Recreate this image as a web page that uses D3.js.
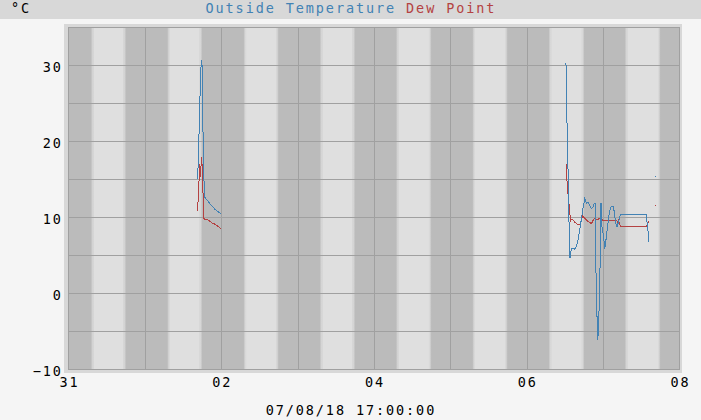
<!DOCTYPE html>
<html>
<head>
<meta charset="utf-8">
<script src="https://cdn.jsdelivr.net/npm/d3@7/dist/d3.min.js"></script>
<style>
  html, body { margin: 0; padding: 0; background: #f5f5f5; }
  svg { display: block; }
  text { font-family: "DejaVu Sans Mono", "Liberation Mono", monospace; }
</style>
</head>
<body>
<svg id="chart" width="701" height="420"></svg>
<script>
// ---------------- DATA ----------------
const xStart = "2018-07-31 00:00";
const xEnd = "2018-08-08 00:00";
const yMin = -10;
const yMax = 35;
const yTickValues = [-10, 0, 10, 20, 30];
const yGridValues = [-5, 0, 5, 10, 15, 20, 25, 30];
const xTickDates = ["2018-07-31 00:00", "2018-08-02 00:00", "2018-08-04 00:00", "2018-08-06 00:00", "2018-08-08 00:00"];
const dayStarts = ["2018-07-31", "2018-08-01", "2018-08-02", "2018-08-03", "2018-08-04", "2018-08-05", "2018-08-06", "2018-08-07"];
const sunriseHours = [7.45, 7.42, 7.38, 7.35, 7.32, 7.30, 7.25, 7.20];
const sunsetHours  = [17.70, 17.66, 17.67, 17.68, 17.69, 17.62, 17.75, 17.66];
const titleUnit = "°C";
const titleSeries = ["Outside Temperature", "Dew Point"];
const bottomLabel = "07/08/18 17:00:00";

const tempTimes = [
  "2018-08-01 16:30","2018-08-01 16:45","2018-08-01 17:00","2018-08-01 17:15","2018-08-01 17:30",
  "2018-08-01 17:45","2018-08-01 18:00","2018-08-01 18:15","2018-08-01 18:30","2018-08-01 18:45",
  "2018-08-01 19:30","2018-08-01 20:30","2018-08-01 21:25","2018-08-01 22:05","2018-08-01 23:10",
  "2018-08-01 23:55",
  "2018-08-04 00:00",
  "2018-08-06 12:20","2018-08-06 12:25","2018-08-06 12:45","2018-08-06 13:05","2018-08-06 13:20",
  "2018-08-06 13:35","2018-08-06 14:00","2018-08-06 14:30","2018-08-06 15:00","2018-08-06 15:35",
  "2018-08-06 16:05","2018-08-06 16:40","2018-08-06 17:10","2018-08-06 17:40","2018-08-06 18:15",
  "2018-08-06 18:45","2018-08-06 19:15","2018-08-06 19:45","2018-08-06 20:20","2018-08-06 20:50",
  "2018-08-06 21:15","2018-08-06 21:40","2018-08-06 21:45","2018-08-06 22:05","2018-08-06 22:20",
  "2018-08-06 22:40","2018-08-06 23:00","2018-08-06 23:15","2018-08-06 23:20","2018-08-06 23:35",
  "2018-08-07 00:10","2018-08-07 00:30","2018-08-07 00:45","2018-08-07 01:00","2018-08-07 01:20",
  "2018-08-07 01:40","2018-08-07 01:55","2018-08-07 02:15","2018-08-07 02:35","2018-08-07 03:15",
  "2018-08-07 03:40","2018-08-07 04:00","2018-08-07 04:20","2018-08-07 04:35","2018-08-07 04:50",
  "2018-08-07 05:10","2018-08-07 05:30","2018-08-07 13:35","2018-08-07 13:45","2018-08-07 14:05",
  "2018-08-07 14:15","2018-08-07 14:25",
  "2018-08-07 15:30",
  "2018-08-07 16:35"
];
const tempValues = [
  15.0, 16.9, 20.8, 24.8, 28.7,
  30.7, 29.9, 21.7, 15.8, 12.7,
  12.3, 11.8, 11.4, 11.05, 10.7,
  10.5,
  null,
  30.3, 27.0, 20.6, 14.2, 8.1,
  4.7, 5.9, 6.0, 5.8, 6.2,
  7.0, 8.4, 9.8, 11.2, 12.5,
  11.9, 12.0, 11.6, 11.2, 11.4,
  11.9, 11.9, 3.0, -3.1, -6.1,
  -3.1, 2.8, 8.8, 11.9, 9.0,
  7.4, 5.9, 6.6, 7.4, 8.6,
  9.7, 10.5, 11.2, 11.5, 11.5,
  10.1, 9.2, 8.7, 9.2, 9.3,
  10.1, 10.4, 10.4, 9.6, 8.3,
  7.4, 6.8,
  null,
  15.4
];

const dewTimes = [
  "2018-08-01 16:30","2018-08-01 16:45","2018-08-01 17:00","2018-08-01 17:15","2018-08-01 17:30",
  "2018-08-01 17:45","2018-08-01 18:00","2018-08-01 18:15","2018-08-01 18:30","2018-08-01 18:45",
  "2018-08-01 20:00","2018-08-01 21:05","2018-08-01 22:05","2018-08-01 23:10","2018-08-01 23:55",
  "2018-08-04 00:00",
  "2018-08-06 12:20","2018-08-06 12:25","2018-08-06 12:45","2018-08-06 13:05","2018-08-06 13:20",
  "2018-08-06 13:35","2018-08-06 13:40","2018-08-06 14:00","2018-08-06 14:30","2018-08-06 15:05",
  "2018-08-06 15:35","2018-08-06 16:05","2018-08-06 16:40","2018-08-06 17:00","2018-08-06 17:30",
  "2018-08-06 18:10","2018-08-06 18:45","2018-08-06 19:30","2018-08-06 20:20","2018-08-06 20:50",
  "2018-08-06 21:20","2018-08-06 21:45","2018-08-06 23:20",
  "2018-08-07 00:00","2018-08-07 04:20","2018-08-07 04:35","2018-08-07 04:50","2018-08-07 05:10",
  "2018-08-07 05:30","2018-08-07 13:35","2018-08-07 14:05","2018-08-07 14:15",
  "2018-08-07 15:30",
  "2018-08-07 16:35"
];
const dewValues = [
  10.9, 12.3, 14.7, 17.1, 15.3,
  18.0, 16.9, 13.6, 9.9, 9.8,
  9.64, 9.3, 9.1, 8.76, 8.55,
  null,
  17.1, 16.2, 14.2, 12.6, 11.5,
  10.4, 9.4, 9.8, 9.7, 9.4,
  9.2, 9.1, 9.1, 9.4, 10.2,
  9.9, 9.7, 9.4, 9.2, 9.6,
  9.9, 9.7, 9.9,
  9.6, 9.6, 9.3, 9.6, 9.1,
  8.85, 8.85, 9.3, 9.6,
  null,
  11.6
];

// ---------------- RENDER ----------------
const parse = d3.timeParse("%Y-%m-%d %H:%M");
const parseDay = d3.timeParse("%Y-%m-%d");
const W = 701, H = 420;
const plot = { left: 68.5, right: 679.5, top: 27.5, bottom: 369.5 };
const colors = { temp: "#4282b4", dew: "#b44242", night: "#bbbbbb", day: "#dfdfdf", edge: "#d0d0d0", grid: "#a0a0a0" };
const fontSize = 13.5, ls = 1.9;

const svg = d3.select("#chart");
const defs = svg.append("defs");

const x = d3.scaleTime().domain([parse(xStart), parse(xEnd)]).range([plot.left, plot.right]);
const y = d3.scaleLinear().domain([yMin, yMax]).range([plot.bottom, plot.top]);

// backgrounds
svg.append("rect").attr("width", W).attr("height", H).attr("fill", "#f5f5f5");
svg.append("rect").attr("x", 0).attr("y", 0).attr("width", W).attr("height", 19).attr("fill", "#d8d8d8");
svg.append("rect").attr("x", 64).attr("y", 24).attr("width", 618).attr("height", 349).attr("fill", "#d8d8d8");

// clip
defs.append("clipPath").attr("id", "plotclip").append("rect")
  .attr("x", 68).attr("y", 27).attr("width", 612).attr("height", 343);

// gradients
const gDawn = defs.append("linearGradient").attr("id", "dawn");
gDawn.append("stop").attr("offset", "0%").attr("stop-color", colors.night);
gDawn.append("stop").attr("offset", "50%").attr("stop-color", colors.edge);
gDawn.append("stop").attr("offset", "100%").attr("stop-color", colors.day);
const gDusk = defs.append("linearGradient").attr("id", "dusk");
gDusk.append("stop").attr("offset", "0%").attr("stop-color", colors.day);
gDusk.append("stop").attr("offset", "50%").attr("stop-color", colors.edge);
gDusk.append("stop").attr("offset", "100%").attr("stop-color", colors.night);

const gPlot = svg.append("g").attr("clip-path", "url(#plotclip)");
gPlot.append("rect").attr("x", 68).attr("y", 27).attr("width", 612).attr("height", 343).attr("fill", colors.night);

const edgeHalf = 0.42; // hours
const HOUR = 3600 * 1000;
dayStarts.forEach((ds, i) => {
  const d0 = parseDay(ds).getTime();
  const a = x(new Date(d0 + (sunriseHours[i] - edgeHalf) * HOUR));
  const b = x(new Date(d0 + (sunriseHours[i] + edgeHalf) * HOUR));
  const c = x(new Date(d0 + (sunsetHours[i] - edgeHalf) * HOUR));
  const e = x(new Date(d0 + (sunsetHours[i] + edgeHalf) * HOUR));
  gPlot.append("rect").attr("x", a).attr("y", 27).attr("width", b - a).attr("height", 343).attr("fill", "url(#dawn)");
  gPlot.append("rect").attr("x", b).attr("y", 27).attr("width", c - b).attr("height", 343).attr("fill", colors.day);
  gPlot.append("rect").attr("x", c).attr("y", 27).attr("width", e - c).attr("height", 343).attr("fill", "url(#dusk)");
});

// grid lines
const gridG = svg.append("g").attr("stroke", colors.grid).attr("stroke-width", 1).attr("shape-rendering", "crispEdges");
yGridValues.forEach(v => {
  const yy = Math.floor(y(v)) + 0.5;
  gridG.append("line").attr("x1", plot.left).attr("x2", plot.right).attr("y1", yy).attr("y2", yy);
});
dayStarts.slice(1).forEach(ds => {
  const xx = Math.round(x(parseDay(ds))) + 0.5;
  gridG.append("line").attr("x1", xx).attr("x2", xx).attr("y1", plot.top).attr("y2", plot.bottom);
});
// border
gridG.append("rect").attr("x", plot.left).attr("y", plot.top)
  .attr("width", plot.right - plot.left).attr("height", plot.bottom - plot.top).attr("fill", "none");

// series
function series(times, values) {
  return times.map((t, i) => ({ t: parse(t), v: values[i] }));
}
const tempData = series(tempTimes, tempValues);
const dewData = series(dewTimes, dewValues);

const line = d3.line().defined(d => d.v != null).x(d => x(d.t)).y(d => y(d.v));
const dataG = svg.append("g").attr("clip-path", "url(#plotclip)");

function drawSeries(data, color) {
  dataG.append("path").datum(data).attr("d", line).attr("fill", "none")
    .attr("stroke", color).attr("stroke-width", 1).attr("shape-rendering", "crispEdges");
  data.forEach((d, i) => {
    if (d.v == null) return;
    const prev = data[i - 1], next = data[i + 1];
    const isolated = (!prev || prev.v == null) && (!next || next.v == null);
    if (isolated) {
      dataG.append("rect").attr("x", Math.floor(x(d.t))).attr("y", Math.floor(y(d.v)))
        .attr("width", 1).attr("height", 1).attr("fill", color);
    }
  });
}
drawSeries(dewData, colors.dew);
drawSeries(tempData, colors.temp);

// text
function txt(xp, yp, s, anchor) {
  return svg.append("text").attr("x", xp).attr("y", yp).attr("text-anchor", anchor || "start")
    .attr("font-size", fontSize).attr("letter-spacing", ls).attr("fill", "#000").text(s);
}
txt(11, 13, titleUnit);

const title = svg.append("text").attr("x", 350 + ls / 2).attr("y", 13).attr("text-anchor", "middle")
  .attr("font-size", fontSize).attr("letter-spacing", ls);
title.append("tspan").attr("fill", colors.temp).text(titleSeries[0]);
title.append("tspan").attr("fill", colors.dew).text(" " + titleSeries[1]);

const yFmt = d3.format("d");
yTickValues.forEach(v => {
  txt(61 + ls, Math.floor(y(v)) + 6.5, yFmt(v).replace("-", "\u2212"), "end");
});
const xFmt = d3.timeFormat("%d");
xTickDates.forEach(ds => {
  const d = parse(ds);
  txt(x(d) + ls / 2, 387, xFmt(d), "middle");
});

txt(350 + ls / 2, 415, bottomLabel, "middle");
</script>
</body>
</html>
